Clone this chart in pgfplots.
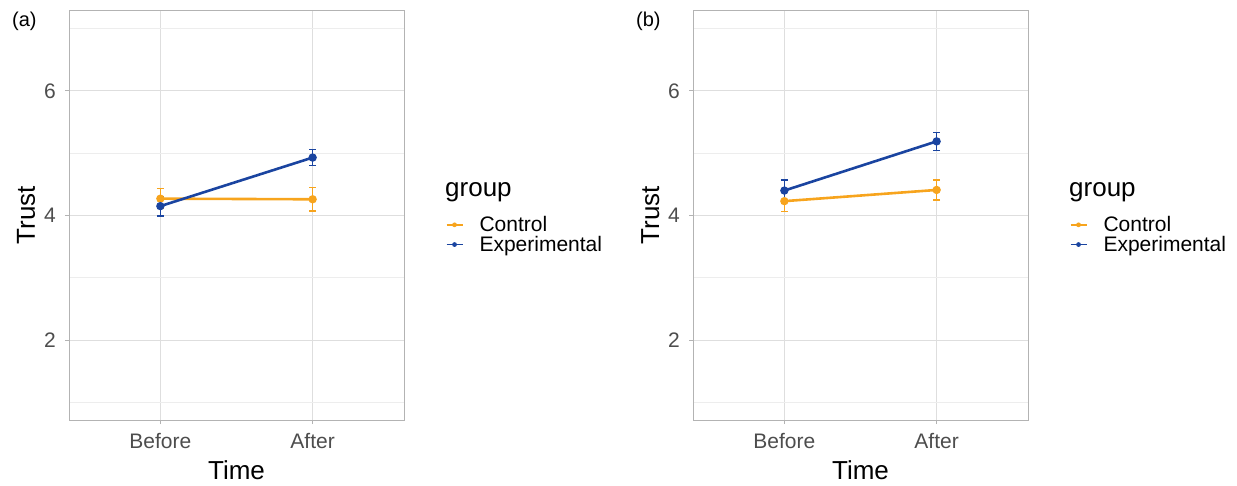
\documentclass[border=0pt]{standalone}
\usepackage{fontspec}
\setmainfont{Liberation Sans}
\usepackage{pgfplots}
\pgfplotsset{compat=1.18}
\definecolor{ctrl}{HTML}{F7A41D}
\definecolor{expt}{HTML}{1A44A0}
\definecolor{gridmaj}{HTML}{DEDEDE}
\definecolor{gridmin}{HTML}{EDEDED}
\definecolor{framec}{HTML}{B3B3B3}
\definecolor{ticklab}{HTML}{4D4D4D}
\pgfplotsset{
  panel/.style={
    scale only axis, width=335pt, height=410pt,
    xmin=0.4, xmax=2.6, ymin=0.715, ymax=7.3,
    xtick={1,2}, xticklabels={Before,After},
    ytick={2,4,6}, minor ytick={1,3,5,7},
    xtick pos=bottom, ytick pos=left,
    grid=both,
    major grid style={gridmaj, line width=0.9pt},
    minor grid style={gridmin, line width=0.6pt},
    axis line style={framec, line width=0.9pt},
    tick align=outside, major tick length=4pt, minor tick length=0pt,
    tick style={framec, line width=0.9pt},
    /pgf/number format/assume math mode=true,
    every tick label/.append style={font=\fontsize{21}{21}\selectfont, text=ticklab},
    yticklabel style={anchor=east, inner sep=0pt, xshift=-9pt},
    xticklabel style={anchor=base, inner sep=0pt, yshift=-24pt},
    xlabel={Time}, ylabel={Trust},
    label style={font=\fontsize{26}{26}\selectfont},
    xlabel style={at={(axis description cs:0.5,-0.1463)}, anchor=base},
    ylabel style={at={(axis description cs:-0.1015,0.5)}, anchor=base, rotate=0},
    legend style={draw=none, fill=none, inner sep=0pt, at={(axis description cs:1.124,0.452)}, anchor=west,
      font=\fontsize{21}{20.5}\selectfont, nodes={inner sep=0pt, anchor=west}, row sep=3pt},
    legend cell align=left,
    legend image code/.code={
      \draw[#1,mark=none,line width=1.6pt] (0pt,0pt) -- (16pt,0pt);
      \fill[#1,draw=none] (8pt,0pt) circle (2.4pt);
      \path[draw=none,fill=none] (0pt,0pt) -- (33pt,0pt);
    },
    error bars/y dir=both, error bars/y explicit,
    error bars/error bar style={line width=1.3pt},
    error bars/error mark options={rotate=90, mark size=3.6pt, line width=1.3pt},
  },
  ctrlplot/.style={color=ctrl, line width=2.6pt, mark=*, mark size=2.8pt},
  exptplot/.style={color=expt, line width=2.6pt, mark=*, mark size=2.8pt},
}
\begin{document}
\begin{tikzpicture}
\useasboundingbox (0pt,0pt) rectangle (1237pt,485pt);
% Panel (a)
\begin{axis}[panel, at={(69pt,65pt)}, anchor=south west]
\addplot[ctrlplot] coordinates {(1,4.27) +- (0,0.16) (2,4.26) +- (0,0.19)};
\addlegendentry{Control}
\addplot[exptplot] coordinates {(1,4.15) +- (0,0.16) (2,4.93) +- (0,0.13)};
\addlegendentry{Experimental}
\end{axis}
\node[anchor=base west, font=\fontsize{26}{26}\selectfont, inner sep=0pt] at (445pt,288pt) {group};
\node[anchor=base west, font=\fontsize{20}{20}\selectfont, inner sep=0pt] at (12pt,458pt) {(a)};
% Panel (b)
\begin{axis}[panel, at={(693pt,65pt)}, anchor=south west]
\addplot[ctrlplot] coordinates {(1,4.23) +- (0,0.17) (2,4.41) +- (0,0.16)};
\addlegendentry{Control}
\addplot[exptplot] coordinates {(1,4.40) +- (0,0.17) (2,5.19) +- (0,0.145)};
\addlegendentry{Experimental}
\end{axis}
\node[anchor=base west, font=\fontsize{26}{26}\selectfont, inner sep=0pt] at (1069pt,288pt) {group};
\node[anchor=base west, font=\fontsize{20}{20}\selectfont, inner sep=0pt] at (636pt,458pt) {(b)};
\end{tikzpicture}
\end{document}
